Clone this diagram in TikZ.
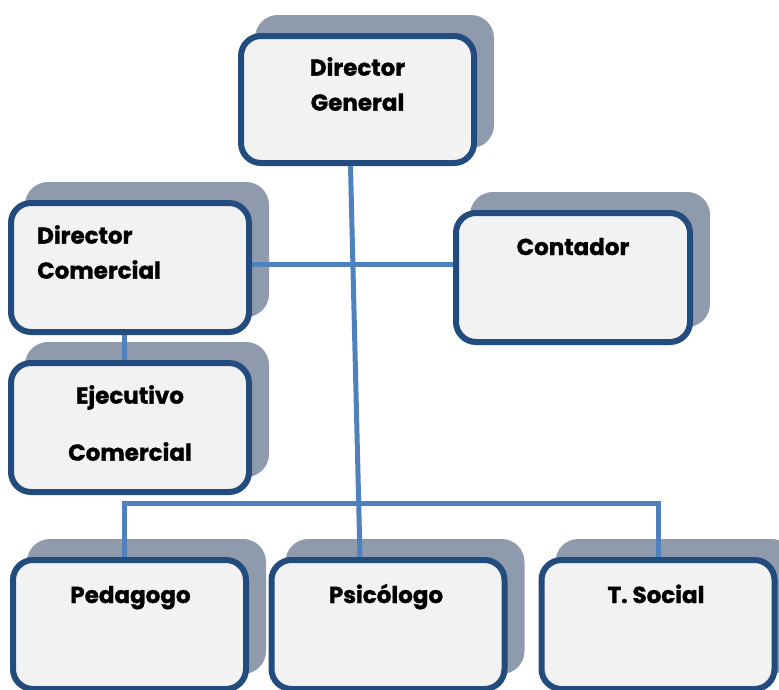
\documentclass[tikz,border=0pt]{standalone}
\usepackage{fontspec}
\setmainfont{Poppins}[BoldFeatures={FakeBold=1.2}]
\usetikzlibrary{shadows,positioning}
\definecolor{boxline}{RGB}{35,76,126}
\definecolor{boxfill}{RGB}{242,242,242}
\definecolor{shadowc}{RGB}{143,155,172}
\definecolor{linkc}{RGB}{79,129,189}
\tikzstyle{box}=[rectangle,rounded corners=20pt,draw=boxline,fill=boxfill,line width=6pt,
  drop shadow={shadow xshift=17pt,shadow yshift=18pt,fill=shadowc,draw=shadowc,line width=6pt,opacity=1}]
\tikzstyle{link}=[draw=linkc,line width=5pt]
\tikzstyle{txt}=[font=\bfseries\fontsize{23}{35}\selectfont,inner sep=0pt,align=center]

\begin{document}
\begin{tikzpicture}[x=1pt,y=-1pt]
    \useasboundingbox (0,0) rectangle (779,689);

    \node[box,minimum width=233pt,minimum height=127pt] (dg)  at (357.5,99.5) {};
    \node[box,minimum width=238pt,minimum height=129pt] (dc)  at (130,267.5)  {};
    \node[box,minimum width=238pt,minimum height=129pt] (ec)  at (130,427.5)  {};
    \node[box,minimum width=234pt,minimum height=129pt] (ct)  at (573,277.5)  {};
    \node[box,minimum width=233pt,minimum height=129pt] (ped) at (129.5,624.5) {};
    \node[box,minimum width=233pt,minimum height=129pt] (psi) at (388,624.5)  {};
    \node[box,minimum width=233pt,minimum height=129pt] (ts)  at (658,624.5)  {};

    \node[txt,anchor=north] (dgl) at ([yshift=-24pt]dg.north) {Director\\General};
    \node[txt,anchor=north west,align=left] (dcl) at ([xshift=29pt,yshift=-25pt]dc.north west) {Director\\Comercial};
    \node[txt,anchor=north] (ecl) at ([yshift=-25pt]ec.north) {Ejecutivo\\[22pt]Comercial};
    \node[txt,anchor=base] (ctl) at ([yshift=-45pt]ct.north) {Contador};
    \node[txt,anchor=base] (pedl) at ([xshift=1pt,yshift=-46pt]ped.north) {Pedagogo};
    \node[txt,anchor=base] (psil) at ([xshift=-2pt,yshift=-46pt]psi.north) {Psicólogo};
    \node[txt,anchor=base] (tsl) at ([xshift=-2pt,yshift=-46pt]ts.north) {T. Social};

    \coordinate (bus) at (400,503);
    \draw[link] ([xshift=-7pt]dg.south) -- ([xshift=-28pt]psi.north);
    \draw[link] ([yshift=3.5pt]dc.east) -- ([yshift=3.5pt]dc.east -| ct.west);
    \draw[link] ([xshift=-6pt]dc.south) -- ([xshift=-6pt]ec.north);
    \draw[link] ([xshift=-5pt]ped.north) |- (bus) -| (ts.north);

\end{tikzpicture}
\end{document}
